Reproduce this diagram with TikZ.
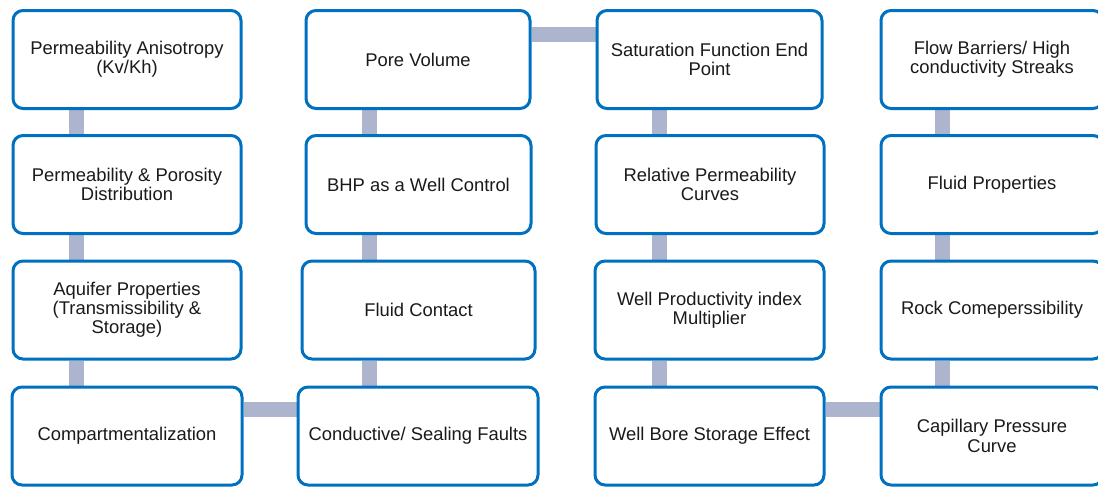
\documentclass[tikz,border=0pt]{standalone}
\usepackage{fontspec}
\setmainfont{Liberation Sans}
\usetikzlibrary{backgrounds}
\definecolor{boxblue}{HTML}{0070C0}
\definecolor{linkgray}{HTML}{ADB5CE}
\definecolor{txtgray}{HTML}{1A1A1A}
\tikzset{
  box/.style={draw=boxblue, line width=1.5pt, rounded corners=5pt, fill=white,
    minimum height=49pt, align=center, text=txtgray, inner sep=2pt,
    font=\fontsize{9.2}{9.6}\selectfont},
  link/.style={draw=linkgray, line width=7.5pt}
}
\begin{document}
\begin{tikzpicture}[x=0.5pt,y=-0.5pt]
\useasboundingbox (0,0) rectangle (1098,487);
\node[box, minimum width=114pt] (a1) at (127,59.5) {Permeability Anisotropy\\(Kv/Kh)};
\node[box, minimum width=114pt] (a2) at (127,184.5) {Permeability \& Porosity\\Distribution};
\node[box, minimum width=114pt] (a3) at (127,310) {Aquifer Properties\\(Transmissibility \&\\Storage)};
\node[box, minimum width=115pt] (a4) at (127,436) {Compartmentalization};
\node[box, minimum width=112pt] (b1) at (418,59.5) {Pore Volume};
\node[box, minimum width=112.5pt] (b2) at (418.5,184.5) {BHP as a Well Control};
\node[box, minimum width=116.5pt] (b3) at (418.5,310) {Fluid Contact};
\node[box, minimum width=120pt] (b4) at (418,436) {Conductive/ Sealing Faults};
\node[box, minimum width=112.5pt] (c1) at (709.5,59.5) {Saturation Function End\\Point};
\node[box, minimum width=114pt] (c2) at (710,184.5) {Relative Permeability\\Curves};
\node[box, minimum width=114.5pt] (c3) at (709.5,310) {Well Productivity index\\Multiplier};
\node[box, minimum width=114.5pt] (c4) at (709.5,436) {Well Bore Storage Effect};
\node[box, minimum width=111pt] (d1) at (992,59.5) {Flow Barriers/ High\\conductivity Streaks};
\node[box, minimum width=111pt] (d2) at (992,184.5) {Fluid Properties};
\node[box, minimum width=111pt] (d3) at (992,310) {Rock Comeperssibility};
\node[box, minimum width=111pt] (d4) at (992,436) {Capillary Pressure\\Curve};
\coordinate (ca) at (76,0);
\coordinate (cb) at (369,0);
\coordinate (cc) at (659,0);
\coordinate (cd) at (942,0);
\coordinate (rtop) at (0,34);
\coordinate (rbot) at (0,409.5);
\begin{pgfonlayer}{background}
\draw[link] (a1.south -| ca) -- (a2.north -| ca);
\draw[link] (a2.south -| ca) -- (a3.north -| ca);
\draw[link] (a3.south -| ca) -- (a4.north -| ca);
\draw[link] (b1.south -| cb) -- (b2.north -| cb);
\draw[link] (b2.south -| cb) -- (b3.north -| cb);
\draw[link] (b3.south -| cb) -- (b4.north -| cb);
\draw[link] (c1.south -| cc) -- (c2.north -| cc);
\draw[link] (c2.south -| cc) -- (c3.north -| cc);
\draw[link] (c3.south -| cc) -- (c4.north -| cc);
\draw[link] (d1.south -| cd) -- (d2.north -| cd);
\draw[link] (d2.south -| cd) -- (d3.north -| cd);
\draw[link] (d3.south -| cd) -- (d4.north -| cd);
\draw[link] (b1.east |- rtop) -- (c1.west |- rtop);
\draw[link] (a4.east |- rbot) -- (b4.west |- rbot);
\draw[link] (c4.east |- rbot) -- (d4.west |- rbot);
\end{pgfonlayer}
\end{tikzpicture}
\end{document}
